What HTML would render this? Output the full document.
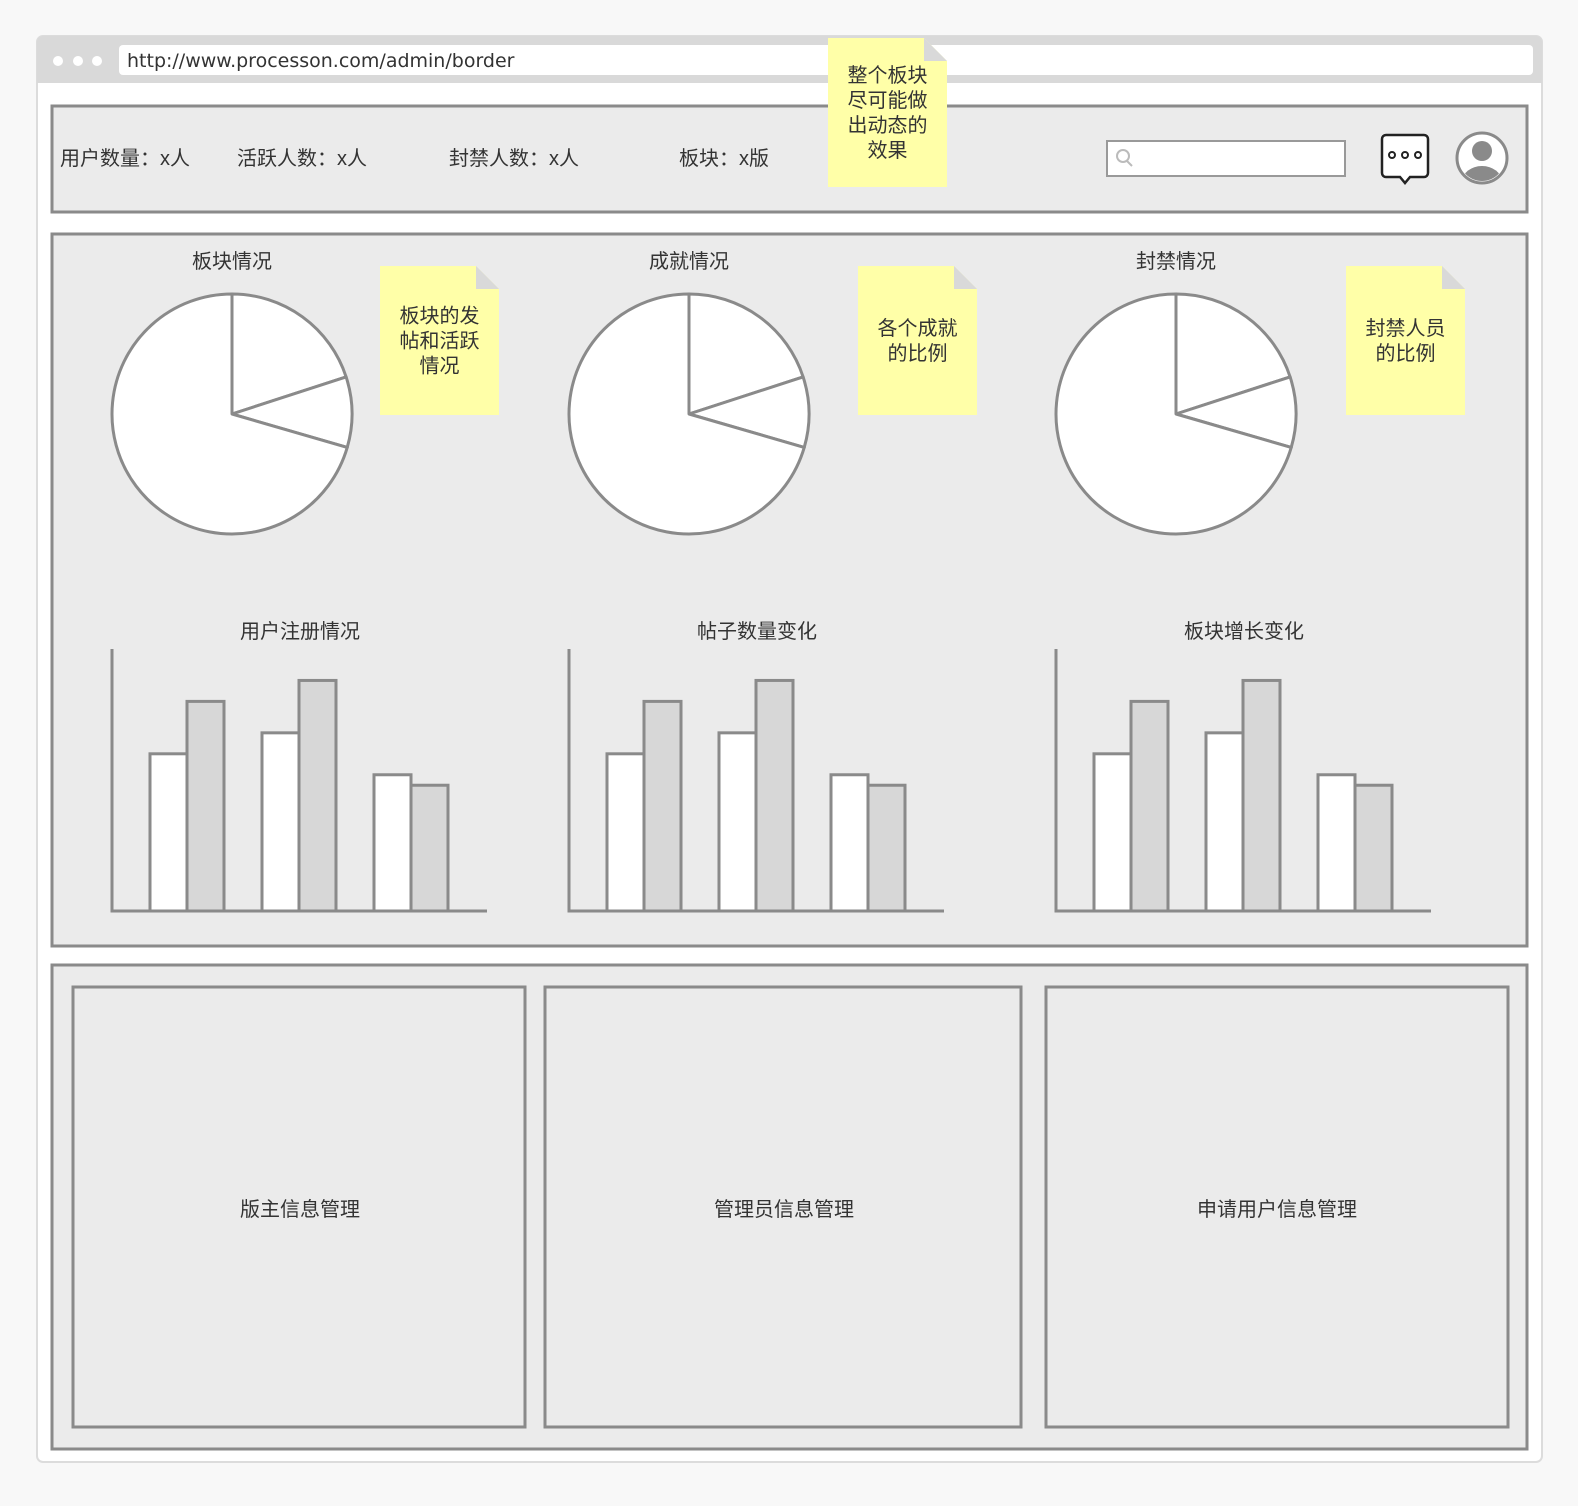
<!DOCTYPE html>
<html><head><meta charset="utf-8">
<style>
html,body{margin:0;padding:0;background:#f8f8f8;}
body{width:1578px;height:1501px;overflow:hidden;font-family:"Liberation Sans","Noto Sans CJK SC",sans-serif;}
svg text{font-family:"Liberation Sans","Noto Sans CJK SC",sans-serif;fill:#333;}
svg text.url{font-family:"DejaVu Sans","Liberation Sans",sans-serif;}
</style></head>
<body>
<svg id="s" width="1578" height="1501" viewBox="0 0 1578 1501" xmlns="http://www.w3.org/2000/svg">
<g>
<rect x="37" y="36" width="1505" height="1426" rx="6" fill="#fff" stroke="#dcdcdc" stroke-width="2"/>
<path d="M37 42 a6 6 0 0 1 6 -6 h1493 a6 6 0 0 1 6 6 v41 h-1505z" fill="#d9d9d9"/>
<circle cx="58" cy="61" r="5" fill="#fff"/><circle cx="78" cy="61" r="5" fill="#fff"/><circle cx="97" cy="61" r="5" fill="#fff"/>
<rect x="119" y="45" width="1414" height="30" rx="4" fill="#fff"/>
<text class="url" x="127" y="67" font-size="19" fill="#222">http://www.processon.com/admin/border</text>
</g>
<g>
<rect x="52" y="106" width="1475" height="106" fill="#ebebeb" stroke="#8a8a8a" stroke-width="3"/>
<text x="60" y="165" font-size="20">用户数量：x人</text>
<text x="237" y="165" font-size="20">活跃人数：x人</text>
<text x="449" y="165" font-size="20">封禁人数：x人</text>
<text x="679" y="165" font-size="20">板块：x版</text>
<rect x="1107" y="141" width="238" height="35" fill="#fff" stroke="#999" stroke-width="2"/>
<circle cx="1123" cy="156" r="6" fill="none" stroke="#bbb" stroke-width="2"/><line x1="1127" y1="161" x2="1132" y2="166" stroke="#bbb" stroke-width="2"/>
<g>
<path d="M1386 135 h38 a4 4 0 0 1 4 4 v34 a4 4 0 0 1 -4 4 h-14 l-5 6 l-5 -6 h-14 a4 4 0 0 1 -4 -4 v-34 a4 4 0 0 1 4 -4z" fill="#fff" stroke="#222" stroke-width="2.5"/>
<circle cx="1392" cy="155" r="3" fill="none" stroke="#222" stroke-width="2"/><circle cx="1405" cy="155" r="3" fill="none" stroke="#222" stroke-width="2"/><circle cx="1418" cy="155" r="3" fill="none" stroke="#222" stroke-width="2"/>
</g>
<g>
<circle cx="1482" cy="158" r="25" fill="#fff" stroke="#8a8a8a" stroke-width="3"/>
<clipPath id="av"><circle cx="1482" cy="158" r="23"/></clipPath>
<g clip-path="url(#av)" fill="#8a8a8a"><circle cx="1482" cy="151" r="10"/><ellipse cx="1482" cy="182" rx="20" ry="16"/></g>
</g>
</g>
<rect x="52" y="234" width="1475" height="712" fill="#ebebeb" stroke="#8a8a8a" stroke-width="3"/>
<g id="pies"></g>
<g id="bars"></g>
<g>
<rect x="52" y="965" width="1475" height="484" fill="#ebebeb" stroke="#8a8a8a" stroke-width="3"/>
<rect x="73" y="987" width="452" height="440" fill="#ebebeb" stroke="#8a8a8a" stroke-width="3"/>
<text x="300" y="1216" font-size="20" text-anchor="middle">版主信息管理</text>
<rect x="545" y="987" width="476" height="440" fill="#ebebeb" stroke="#8a8a8a" stroke-width="3"/>
<text x="784" y="1216" font-size="20" text-anchor="middle">管理员信息管理</text>
<rect x="1046" y="987" width="462" height="440" fill="#ebebeb" stroke="#8a8a8a" stroke-width="3"/>
<text x="1277" y="1216" font-size="20" text-anchor="middle">申请用户信息管理</text>
</g>
<g id="notes"></g>
</svg>
<script>
const pieTitles=["板块情况","成就情况","封禁情况"];
const pieValues=[[20,9.5,70.5],[20,9.5,70.5],[20,9.5,70.5]];
const barTitles=["用户注册情况","帖子数量变化","板块增长变化"];
const barCategories=["A","B","C"];
const seriesA=[[60,68,52],[60,68,52],[60,68,52]];
const seriesB=[[80,88,48],[80,88,48],[80,88,48]];
const yMax=100;
const noteTexts=[["整个板块","尽可能做","出动态的","效果"],["板块的发","帖和活跃","情况"],["各个成就","的比例"],["封禁人员","的比例"]];

const NS="http://www.w3.org/2000/svg";
function mk(tag,attrs,parent){const e=document.createElementNS(NS,tag);for(const k in attrs)e.setAttribute(k,attrs[k]);parent.appendChild(e);return e;}
const pieCx=[232,689,1176], pieCy=414, R=120;
const pg=document.getElementById('pies');
pieValues.forEach((vals,i)=>{
  const g=mk('g',{},pg);
  
  
  const t=mk('text',{x:pieCx[i],y:268,'font-size':20,'text-anchor':'middle'},g);t.textContent=pieTitles[i];
  
  
  const tot=vals.reduce((a,b)=>a+b,0);let a0=-Math.PI/2;
  vals.forEach((v,j)=>{
    const a1=a0+v/tot*2*Math.PI;const cx=pieCx[i];
    const x0=cx+R*Math.cos(a0),y0=pieCy+R*Math.sin(a0),x1=cx+R*Math.cos(a1),y1=pieCy+R*Math.sin(a1);
    const p=mk('path',{d:`M${cx} ${pieCy} L${x0} ${y0} A${R} ${R} 0 ${a1-a0>Math.PI?1:0} 1 ${x1} ${y1} Z`,fill:'#fff',stroke:'#8a8a8a','stroke-width':3,'stroke-linejoin':'round'},g);
    
    
    a0=a1;
  });
});
const axX=[112,569,1056], axTop=649, axBot=911, axW=375, bw=37;
function yS(v){return axBot-(v/yMax)*(axBot-axTop);}
const bg=document.getElementById('bars');
barTitles.forEach((title,i)=>{
  const g=mk('g',{},bg);
  
  
  const x0=axX[i];
  const t=mk('text',{x:x0+188,y:638,'font-size':20,'text-anchor':'middle'},g);t.textContent=title;
  
  
  barCategories.forEach((c,j)=>{
    const bx=x0+38+j*112;
    const ra=mk('rect',{x:bx,y:yS(seriesA[i][j]),width:bw,height:axBot-yS(seriesA[i][j]),fill:'#fff',stroke:'#8a8a8a','stroke-width':3},g);
    
    
    const rb=mk('rect',{x:bx+bw,y:yS(seriesB[i][j]),width:bw,height:axBot-yS(seriesB[i][j]),fill:'#d7d7d7',stroke:'#8a8a8a','stroke-width':3},g);
    
    
  });
  const ax=mk('path',{d:`M${x0} ${axTop} V${axBot} H${x0+axW}`,fill:'none',stroke:'#8a8a8a','stroke-width':3},g);
  
  
});
const notePos=[[828,38,187],[380,266,415],[858,266,415],[1346,266,415]];
const ng=document.getElementById('notes');
noteTexts.forEach((lines,i)=>{
  const [x,y,b]=notePos[i];const w=119,h=b-y;
  const g=mk('g',{},ng);
  
  
  mk('path',{d:`M${x} ${y} h${w-23} l23 23 v${h-23} h${-w} z`,fill:'#ffffa8'},g);
  mk('path',{d:`M${x+w-23} ${y} l23 23 h-23 z`,fill:'#d9d9d9'},g);
  const lh=25, start=y+h/2-(lines.length-1)*lh/2+7;
  lines.forEach((l,k)=>{const t=mk('text',{x:x+w/2,y:start+k*lh,'font-size':20,'text-anchor':'middle'},g);t.textContent=l;});
});
</script>
</body></html>
